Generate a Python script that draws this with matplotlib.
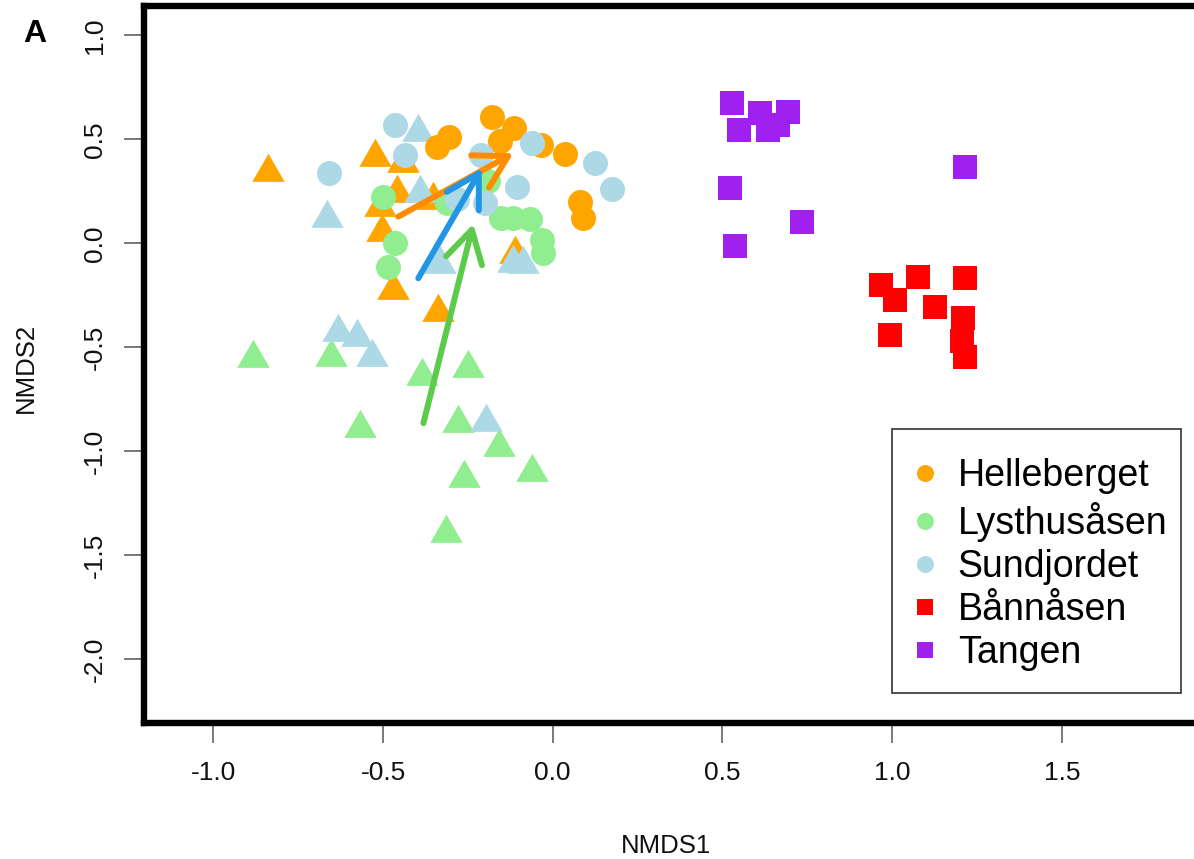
import matplotlib
matplotlib.use("Agg")
import matplotlib.pyplot as plt
from matplotlib.path import Path
from matplotlib.lines import Line2D
from matplotlib.patches import Rectangle
import numpy as np

plt.rcParams['font.family'] = ['Liberation Sans', 'DejaVu Sans']
plt.rcParams['axes.unicode_minus'] = False

# ---------------- data ----------------
sites = ["Helleberget", "Lysthusåsen", "Sundjordet", "Bånnåsen", "Tangen"]
site_colors = ["#FFA500", "#90EE90", "#ADD8E6", "#FF0000", "#A020F0"]

# Helleberget
hel_tri_x = [-0.838, -0.524, -0.440, -0.460, -0.509, -0.504, -0.352, -0.470, -0.337, -0.111]
hel_tri_y = [0.342, 0.417, 0.386, 0.244, 0.177, 0.054, 0.209, -0.224, -0.328, -0.050]
hel_cir_x = [-0.341, -0.306, -0.179, -0.114, -0.155, -0.034, 0.036, 0.080, 0.089]
hel_cir_y = [0.464, 0.512, 0.608, 0.555, 0.493, 0.474, 0.430, 0.200, 0.123]

# Lysthusåsen
lys_tri_x = [-0.884, -0.653, -0.384, -0.249, -0.568, -0.278, -0.157, -0.062, -0.261, -0.314]
lys_tri_y = [-0.552, -0.544, -0.637, -0.600, -0.888, -0.863, -0.977, -1.099, -1.129, -1.390]
lys_cir_x = [-0.501, -0.465, -0.485, -0.311, -0.190, -0.152, -0.117, -0.067, -0.032, -0.030]
lys_cir_y = [0.225, 0.001, -0.113, 0.195, 0.300, 0.123, 0.121, 0.118, 0.017, -0.048]

# Sundjordet
sun_tri_x = [-0.396, -0.664, -0.391, -0.332, -0.116, -0.087, -0.632, -0.577, -0.533, -0.197]
sun_tri_y = [0.538, 0.121, 0.244, -0.100, -0.092, -0.100, -0.427, -0.448, -0.544, -0.857]
sun_cir_x = [-0.466, -0.659, -0.435, -0.211, -0.199, -0.105, -0.061, 0.125, 0.175, -0.282]
sun_cir_y = [0.570, 0.339, 0.425, 0.425, 0.193, 0.272, 0.482, 0.386, 0.262, 0.214]

# Bånnåsen
ban_x = [0.967, 1.009, 1.077, 1.126, 1.215, 0.994, 1.210, 1.205, 1.215]
ban_y = [-0.200, -0.272, -0.160, -0.307, -0.164, -0.440, -0.360, -0.469, -0.546]

# Tangen
tan_x = [0.528, 0.611, 0.693, 0.549, 0.634, 0.664, 1.215, 0.522, 0.735, 0.537]
tan_y = [0.675, 0.627, 0.632, 0.546, 0.546, 0.570, 0.368, 0.267, 0.103, -0.012]

# fitted vectors (start x, start y, end x, end y)
arrow_colors = ["#FF8C00", "#5CCB4C", "#2196E6"]
arrow_x0 = [-0.455, -0.381, -0.396]
arrow_y0 = [0.129, -0.864, -0.167]
arrow_x1 = [-0.116, -0.234, -0.209]
arrow_y1 = [0.434, 0.094, 0.362]

x_ticks = [-1.0, -0.5, 0.0, 0.5, 1.0, 1.5]
y_ticks = [1.0, 0.5, 0.0, -0.5, -1.0, -1.5, -2.0]

# ---------------- figure ----------------
W, H = 1194, 859
fig = plt.figure(figsize=(W / 100, H / 100), dpi=100)
ax = fig.add_axes([143.5 / W, 1 - 722.5 / H, (1210 - 143.5) / W, (722.5 - 6) / H])
ax.set_xlim(-1.2057, 1.9367)
ax.set_ylim(-2.3029, 1.1418)

# R-style filled triangle (centroid at marker centre)
tri = Path([(0, 1), (-0.8660, -0.5), (0.8660, -0.5), (0, 1)],
           [Path.MOVETO, Path.LINETO, Path.LINETO, Path.CLOSEPOLY])

S_TRI = 27.0 ** 2
S_CIR = 18.0 ** 2
S_SQ = 17.3 ** 2

tri_sets = [(hel_tri_x, hel_tri_y, site_colors[0]),
            (lys_tri_x, lys_tri_y, site_colors[1]),
            (sun_tri_x, sun_tri_y, site_colors[2])]
cir_sets = [(hel_cir_x, hel_cir_y, site_colors[0]),
            (lys_cir_x, lys_cir_y, site_colors[1]),
            (sun_cir_x, sun_cir_y, site_colors[2])]

z = 2
for xs, ys, c in tri_sets:
    ax.scatter(xs, ys, marker=tri, s=S_TRI, color=c, linewidths=0, zorder=z)
    z += 0.1
for xs, ys, c in cir_sets:
    ax.scatter(xs, ys, marker='o', s=S_CIR, color=c, linewidths=0, zorder=z)
    z += 0.1
ax.scatter(ban_x, ban_y, marker='s', s=S_SQ, color=site_colors[3], linewidths=0, zorder=z)
ax.scatter(tan_x, tan_y, marker='s', s=S_SQ, color=site_colors[4], linewidths=0, zorder=z)

for c, x0, y0, x1, y1 in zip(arrow_colors, arrow_x0, arrow_y0, arrow_x1, arrow_y1):
    ax.annotate("", xy=(x1, y1), xytext=(x0, y0), zorder=5,
                arrowprops=dict(arrowstyle="->,head_length=23,head_width=13.3",
                                mutation_scale=1, lw=4.3, color=c,
                                shrinkA=0, shrinkB=0,
                                capstyle='round', joinstyle='round'))

# frame
for sp in ax.spines.values():
    sp.set_linewidth(4.6)
    sp.set_color('black')
ax.spines['right'].set_visible(False)

ax.set_xticks(x_ticks)
ax.set_yticks(y_ticks)
ax.set_xticklabels([f"{v:.1f}" for v in x_ticks])
ax.set_yticklabels([f"{v:.1f}" for v in y_ticks])
ax.tick_params(axis='both', direction='out', length=14.5, width=1.1,
               color='#555555', labelsize=19, labelcolor='#111111')
ax.tick_params(axis='x', pad=13)
ax.tick_params(axis='y', pad=12, labelrotation=90)
for lbl in ax.get_yticklabels():
    lbl.set_va('center')

# axis titles
fig.text(666 / W, 1 - 853 / H, "NMDS1", fontsize=18.5, ha='center', va='baseline', color='#111111')
fig.text(26 / W, 1 - 368 / H, "NMDS2", fontsize=18.5, ha='center', va='center',
         rotation=90, color='#111111')
fig.text(35 / W, 1 - 34 / H, "A", fontsize=23, fontweight='bold', ha='center', va='center')

# legend
handles = [Line2D([], [], marker='o', linestyle='none', markersize=12.2,
                  markerfacecolor=site_colors[0], markeredgewidth=0),
           Line2D([], [], marker='o', linestyle='none', markersize=12.2,
                  markerfacecolor=site_colors[1], markeredgewidth=0),
           Line2D([], [], marker='o', linestyle='none', markersize=12.2,
                  markerfacecolor=site_colors[2], markeredgewidth=0),
           Line2D([], [], marker='s', linestyle='none', markersize=12.2,
                  markerfacecolor=site_colors[3], markeredgewidth=0),
           Line2D([], [], marker='s', linestyle='none', markersize=12.2,
                  markerfacecolor=site_colors[4], markeredgewidth=0)]
fig.patches.append(Rectangle((891.7 / W, 1 - 692.7 / H), (1181 - 891.7) / W, (692.7 - 429.3) / H,
                             transform=fig.transFigure, facecolor='white',
                             edgecolor='#333333', linewidth=1.2, zorder=6))
leg = fig.legend(handles, sites, loc='upper left',
                 bbox_to_anchor=(906 / W, 1 - 458.5 / H), bbox_transform=fig.transFigure,
                 frameon=False, fontsize=27, borderpad=0, borderaxespad=0,
                 handlelength=1.0, handletextpad=0.38, labelspacing=0.19)
leg.set_zorder(7)

fig.savefig("out.png", dpi=100)
